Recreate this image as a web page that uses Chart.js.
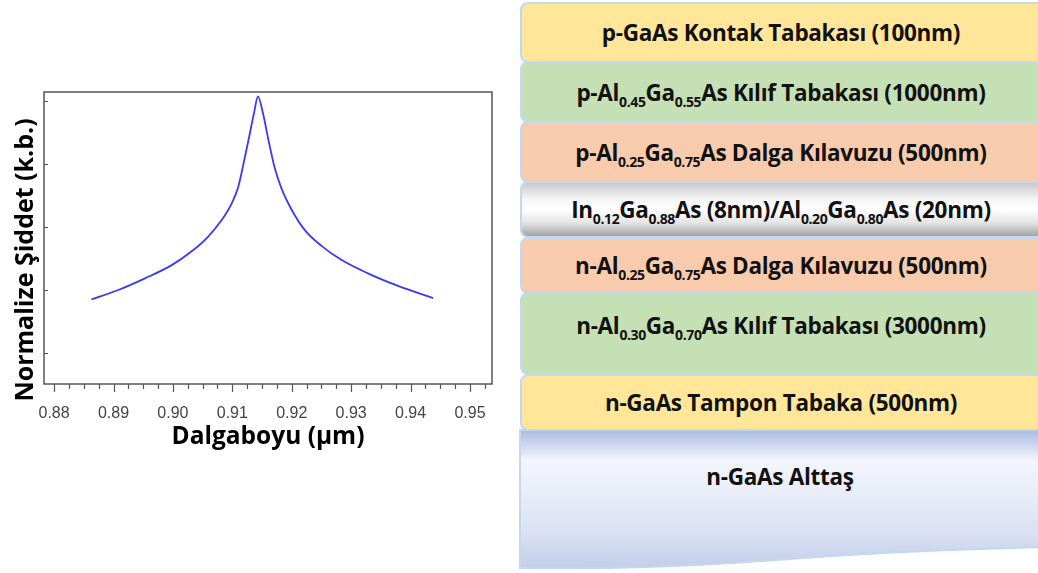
<!DOCTYPE html>
<html>
<head>
<meta charset="utf-8">
<script src="https://cdn.jsdelivr.net/npm/chart.js@4.4.0/dist/chart.umd.js"></script>
<style>
  html, body { margin: 0; padding: 0; background: #fff; }
  body { width: 1038px; height: 573px; overflow: hidden; position: relative; font-family: 'Open Sans', sans-serif; }
  #chartBox { position: absolute; left: 0; top: 0; width: 515px; height: 573px; }
  .layer {
    position: absolute; left: 520px; width: 540px; box-sizing: border-box;
    border: 2px solid #c3d8ef; border-radius: 8px;
    display: flex; align-items: center;
  }
  .layer span {
    display: block; width: 518px; text-align: center; white-space: nowrap;
    font-weight: 700; font-size: 22.5px; color: #111; letter-spacing: -0.3px;
  }
  .layer sub { font-size: 14px; vertical-align: -6px; line-height: 0; letter-spacing: -0.4px; }
  .yellow { background: #ffe699; }
  .green { background: #c5e0b4; }
  .salmon { background: #f8cbad; }
  .gray { background: linear-gradient(to bottom, #c9c9c9 0%, #f4f4f4 30%, #ffffff 50%, #e4e4e4 75%, #a3a3a3 100%); }
  #substrate { position: absolute; left: 518px; top: 428px; }
  #substrateText { position: absolute; left: 520px; top: 461px; width: 520px; text-align: center;
    font-weight: 700; font-size: 22.5px; color: #111; letter-spacing: -0.3px; }
</style>
</head>
<body>
<div id="chartBox"><canvas id="spectrum"></canvas></div>

<svg id="substrate" width="530" height="145">
  <defs>
    <linearGradient id="subGrad" x1="0" y1="0" x2="0" y2="1">
      <stop offset="0" stop-color="#a8b9e2"/>
      <stop offset="0.22" stop-color="#f3f5fb"/>
      <stop offset="0.45" stop-color="#e9edf8"/>
      <stop offset="0.75" stop-color="#d9e0f2"/>
      <stop offset="1" stop-color="#c2cdea"/>
    </linearGradient>
  </defs>
  <path d="M2,2 L530,2 L530,119 C420,121 320,127 230,134 C140,140 60,141 2,140 Z"
        fill="url(#subGrad)" stroke="#c3d8ef" stroke-width="2"/>
</svg>
<div id="substrateText">n-GaAs Alttaş</div>

<div class="layer yellow" style="top:2px;height:61px;"><span>p-GaAs Kontak Tabakası (100nm)</span></div>
<div class="layer green" style="top:61px;height:62px;"><span>p-Al<sub>0.45</sub>Ga<sub>0.55</sub>As Kılıf Tabakası (1000nm)</span></div>
<div class="layer salmon" style="top:121px;height:62px;"><span>p-Al<sub>0.25</sub>Ga<sub>0.75</sub>As Dalga Kılavuzu (500nm)</span></div>
<div class="layer gray" style="top:181px;height:57px;"><span>In<sub>0.12</sub>Ga<sub>0.88</sub>As (8nm)/Al<sub>0.20</sub>Ga<sub>0.80</sub>As (20nm)</span></div>
<div class="layer salmon" style="top:237px;height:57px;"><span>n-Al<sub>0.25</sub>Ga<sub>0.75</sub>As Dalga Kılavuzu (500nm)</span></div>
<div class="layer green" style="top:292px;height:83px;align-items:flex-start;"><span style="margin-top:16px;">n-Al<sub>0.30</sub>Ga<sub>0.70</sub>As Kılıf Tabakası (3000nm)</span></div>
<div class="layer yellow" style="top:374px;height:57px;"><span>n-GaAs Tampon Tabaka (500nm)</span></div>

<script>
// Spectrum
const wavelength = [0.8863, 0.8908, 0.8953, 0.8998, 0.9031, 0.9059, 0.9082, 0.9099, 0.9110, 0.9118,
                    0.9129, 0.9137, 0.9143, 0.9152, 0.9160, 0.9171, 0.9183, 0.9200, 0.9222, 0.9250,
                    0.9284, 0.9328, 0.9379, 0.9438];
const intensity = [0.370, 0.400, 0.437, 0.479, 0.522, 0.569, 0.622, 0.675, 0.728, 0.794,
                   0.893, 0.967, 1.015, 0.957, 0.883, 0.790, 0.721, 0.654, 0.590, 0.540,
                   0.495, 0.453, 0.413, 0.374];

const xTickLabels = [0.88, 0.89, 0.90, 0.91, 0.92, 0.93, 0.94, 0.95];
const yTickValues = [0.2, 0.4, 0.6, 0.8, 1.0];

// minor ticks every 0.0025 between major ones
const xMinorTicks = [];
for (let i = 1; i <= 29; i++) {
    if (i % 4 !== 0) xMinorTicks.push(0.88 + i * 0.0025);
}

const X_MIN = 0.8783, X_MAX = 0.9537;
const Y_MIN = 0.1016, Y_MAX = 1.0286;

const frameAndTitles = {
    id: 'frameAndTitles',
    afterDraw(chart) {
        const ctx = chart.ctx;
        const a = chart.chartArea;
        const xs = chart.scales.x, ys = chart.scales.y;
        ctx.save();
        ctx.strokeStyle = '#555';
        ctx.lineWidth = 1.5;
        ctx.strokeRect(a.left, a.top, a.right - a.left, a.bottom - a.top);

        ctx.lineWidth = 1.2;
        ctx.beginPath();
        xTickLabels.forEach(v => {
            const px = Math.round(xs.getPixelForValue(v)) + 0.5;
            ctx.moveTo(px, a.bottom);
            ctx.lineTo(px, a.bottom + 8);
        });
        xMinorTicks.forEach(v => {
            const px = Math.round(xs.getPixelForValue(v)) + 0.5;
            ctx.moveTo(px, a.bottom);
            ctx.lineTo(px, a.bottom + 5);
        });
        yTickValues.forEach(v => {
            const py = Math.round(ys.getPixelForValue(v)) + 0.5;
            ctx.moveTo(a.left, py);
            ctx.lineTo(a.left + 4, py);
        });
        ctx.stroke();

        ctx.fillStyle = '#000';
        ctx.font = "bold 24.5px 'Open Sans'";
        ctx.textAlign = 'center';
        ctx.textBaseline = 'middle';
        ctx.fillText('Dalgaboyu (µm)', (a.left + a.right) / 2, 437);

        ctx.font = "bold 25px 'Open Sans'";
        ctx.translate(26, 260);
        ctx.rotate(-Math.PI / 2);
        ctx.fillText('Normalize Şiddet (k.b.)', 0, 0);
        ctx.restore();
    }
};

new Chart(document.getElementById('spectrum'), {
    type: 'line',
    data: {
        datasets: [{
            data: wavelength.map((w, i) => ({ x: w, y: intensity[i] })),
            borderColor: '#3a3af2',
            borderWidth: 1.8,
            pointRadius: 0,
            fill: false,
            cubicInterpolationMode: 'monotone'
        }]
    },
    options: {
        responsive: true,
        maintainAspectRatio: false,
        animation: false,
        layout: { padding: { left: 44, top: 92, right: 23, bottom: 0 } },
        plugins: { legend: { display: false }, tooltip: { enabled: false } },
        scales: {
            x: {
                type: 'linear',
                min: X_MIN,
                max: X_MAX,
                grid: { display: false },
                border: { display: false },
                afterBuildTicks: s => { s.ticks = xTickLabels.map(v => ({ value: v })); },
                afterFit: s => { s.height = 573 - 384; },
                ticks: {
                    padding: 12,
                    color: '#444',
                    font: { family: "'Liberation Sans', Arial, sans-serif", size: 16 },
                    callback: v => v.toFixed(2),
                    maxRotation: 0,
                    autoSkip: false
                }
            },
            y: {
                type: 'linear',
                display: false,
                min: Y_MIN,
                max: Y_MAX
            }
        }
    },
    plugins: [frameAndTitles]
});
</script>
</body>
</html>
